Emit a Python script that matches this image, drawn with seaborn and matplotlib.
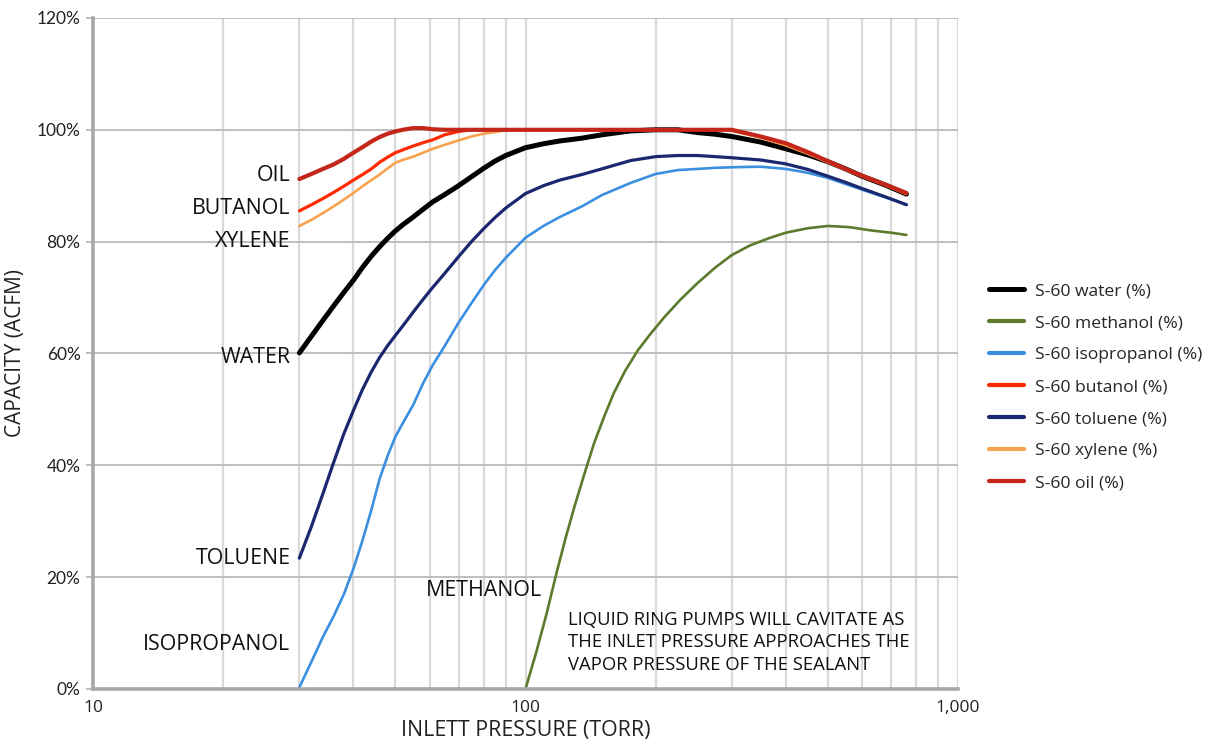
import numpy as np
import pandas as pd
import seaborn as sns
import matplotlib.pyplot as plt
from matplotlib.lines import Line2D
from matplotlib.ticker import FixedLocator, FuncFormatter

sns.set_theme(style="white")
plt.rcParams["font.family"] = ["Lato", "DejaVu Sans"]
TEXT_FONT = ["Open Sans", "DejaVu Sans"]

# -----------------------------------------------------------------
# data (pressure in torr, capacity in %)
# -----------------------------------------------------------------
pressure = [30, 32, 34, 36, 38, 40, 42, 44, 46, 48, 50, 52, 55, 58, 61, 65,
            70, 75, 80, 85, 90, 100, 110, 120, 135, 150, 175, 200, 225, 250,
            275, 300, 350, 400, 450, 500, 550, 600, 680, 760]

water = [60.1, 63.1, 65.9, 68.5, 70.9, 73.1, 75.4, 77.4, 79.1, 80.6, 81.9,
         83.0, 84.4, 85.8, 87.1, 88.4, 90.0, 91.6, 93.1, 94.4, 95.4, 96.8,
         97.5, 98.0, 98.5, 99.1, 99.8, 100.0, 100.0, 99.5, 99.2, 98.8, 97.8,
         96.6, 95.5, 94.3, 93.0, 91.7, 90.1, 88.5]
isopropanol = [0.3, 4.9, 9.3, 13.0, 16.9, 21.5, 26.6, 32.0, 37.6, 41.7, 45.1,
               47.5, 50.8, 54.7, 57.9, 61.3, 65.5, 69.0, 72.2, 74.9, 77.1,
               80.7, 82.8, 84.4, 86.3, 88.3, 90.5, 92.1, 92.8, 93.0, 93.2,
               93.3, 93.4, 93.0, 92.3, 91.4, 90.3, 89.3, 87.9, 86.6]
butanol = [85.5, 86.6, 87.7, 88.8, 89.9, 91.0, 92.0, 93.0, 94.2, 95.1, 95.9,
           96.4, 97.1, 97.7, 98.2, 99.1, 99.7, 100.0, 100.0, 100.0, 100.0,
           100.0, 100.0, 100.0, 100.0, 100.0, 100.0, 100.0, 100.0, 100.0,
           100.0, 100.0, 98.7, 97.4, 95.9, 94.3, 92.9, 91.7, 90.1, 88.6]
toluene = [23.4, 29.1, 34.9, 40.5, 45.6, 49.8, 53.6, 56.7, 59.3, 61.4, 63.2,
           64.9, 67.4, 69.7, 71.8, 74.3, 77.3, 80.0, 82.3, 84.3, 86.0, 88.6,
           90.0, 91.0, 92.0, 93.0, 94.5, 95.2, 95.4, 95.4, 95.2, 95.0, 94.6,
           93.9, 92.9, 91.7, 90.6, 89.5, 88.0, 86.6]
xylene = [82.8, 83.9, 85.1, 86.3, 87.5, 88.7, 89.9, 91.0, 92.0, 93.1, 94.1,
          94.6, 95.2, 95.9, 96.6, 97.3, 98.1, 98.8, 99.3, 99.6, 99.9, 100.0,
          100.0, 100.0, 100.0, 100.0, 100.0, 100.0, 100.0, 100.0, 100.0,
          99.8, 98.6, 97.2, 95.7, 94.2, 92.9, 91.7, 90.1, 88.5]
oil = [91.2, 92.1, 93.0, 93.8, 94.8, 95.9, 96.9, 97.9, 98.7, 99.3, 99.7,
       100.0, 100.3, 100.3, 100.1, 100.0, 100.0, 100.0, 100.0, 100.0, 100.0,
       100.0, 100.0, 100.0, 100.0, 100.0, 100.0, 100.0, 100.0, 100.0, 100.0,
       100.0, 98.8, 97.6, 96.0, 94.4, 93.0, 91.8, 90.2, 88.7]

methanol_pressure = [100, 106, 112, 118, 124, 130, 137, 144, 152, 160, 170,
                     182, 195, 210, 228, 250, 275, 300, 330, 365, 400, 450,
                     500, 560, 630, 700, 760]
methanol = [0.0, 6.7, 13.6, 20.8, 27.2, 32.8, 38.6, 43.9, 48.7, 52.9, 56.9,
            60.6, 63.6, 66.6, 69.6, 72.6, 75.4, 77.6, 79.3, 80.6, 81.6, 82.4,
            82.8, 82.6, 82.0, 81.6, 81.2]

series_names = ["S-60 water (%)", "S-60 methanol (%)", "S-60 isopropanol (%)",
                "S-60 butanol (%)", "S-60 toluene (%)", "S-60 xylene (%)",
                "S-60 oil (%)"]
series_colors = ["#000000", "#5b7a2c", "#3b8fe0", "#ff2a00", "#1b2870",
                 "#f7a24c", "#c4261a"]
series_widths = [3.6, 1.9, 1.9, 2.3, 2.3, 1.9, 3.0]

series_x = [pressure, methanol_pressure, pressure, pressure, pressure,
            pressure, pressure]
series_y = [water, methanol, isopropanol, butanol, toluene, xylene, oil]

df = pd.concat(
    [pd.DataFrame({"pressure": x, "capacity": y, "series": n})
     for x, y, n in zip(series_x, series_y, series_names)],
    ignore_index=True)

# -----------------------------------------------------------------
# plot
# -----------------------------------------------------------------
fig = plt.figure(figsize=(12.05, 7.48), dpi=100)
ax = fig.add_axes([0.0772, 0.0789, 0.7178, 0.8971])

ax.set_xscale("log")
ax.set_xlim(10, 1000)
ax.set_ylim(0, 120)

# grid
minor_x = [v * d for d in (10, 100) for v in range(2, 10)] + [100, 1000]
for xv in minor_x:
    ax.axvline(xv, color="#d9d9d9", lw=1.6, zorder=0)
for yv in range(20, 121, 20):
    ax.axhline(yv, color="#bfbfbf", lw=1.4, zorder=0)

for name, color, lw in zip(series_names, series_colors, series_widths):
    sns.lineplot(data=df[df["series"] == name], x="pressure", y="capacity",
                 color=color, lw=lw, ax=ax, legend=False, estimator=None,
                 sort=False, solid_capstyle="round", solid_joinstyle="round",
                 zorder=3)

for side in ["top", "right"]:
    ax.spines[side].set_visible(False)
for side in ["left", "bottom"]:
    ax.spines[side].set_color("#a8a8a8")
    ax.spines[side].set_linewidth(2.6)
    ax.spines[side].set_zorder(4)

ax.xaxis.set_major_locator(FixedLocator([10, 100, 1000]))
ax.xaxis.set_minor_locator(FixedLocator([]))
ax.set_xticklabels(["10", "100", "1,000"], family=TEXT_FONT,
                   fontsize=12.5, color="#222222")
ax.set_yticks(range(0, 121, 20))
ax.yaxis.set_major_formatter(FuncFormatter(lambda v, _: f"{v:.0f}%"))
ax.tick_params(axis="x", length=0, pad=8)
ax.tick_params(axis="y", length=5, width=1.4, color="#bfbfbf",
               labelsize=12.5, labelcolor="#222222", pad=4, left=True)

ax.set_xlabel("INLETT PRESSURE (TORR)", fontsize=15.4, family=TEXT_FONT,
              color="#222222", labelpad=3)
ax.set_ylabel("CAPACITY (ACFM)", fontsize=15, family=TEXT_FONT,
              color="#222222", labelpad=8)

# curve labels
lbl = dict(fontsize=15.4, color="#111111", ha="right", va="center",
           family=TEXT_FONT)
ax.text(28.6, 91.9, "OIL", **lbl)
ax.text(28.6, 86.0, "BUTANOL", **lbl)
ax.text(28.6, 80.1, "XYLENE", **lbl)
ax.text(28.6, 59.2, "WATER", **lbl)
ax.text(28.6, 23.4, "TOLUENE", **lbl)
ax.text(28.6, 7.9, "ISOPROPANOL", **lbl)
ax.text(80.2, 17.7, "METHANOL", fontsize=15.4, color="#111111",
        ha="center", va="center", family=TEXT_FONT)
ax.text(125.5, 13.9,
        "LIQUID RING PUMPS WILL CAVITATE AS\n"
        "THE INLET PRESSURE APPROACHES THE\n"
        "VAPOR PRESSURE OF THE SEALANT",
        fontsize=13.3, color="#111111", ha="left", va="top",
        linespacing=1.3, family=TEXT_FONT)

handles = [Line2D([0], [0], color=c, lw=max(w, 3.0)) for c, w in
           zip(series_colors, series_widths)]
fig.legend(handles, series_names, loc="upper left",
           bbox_to_anchor=(0.808, 0.643), frameon=False,
           prop={"family": TEXT_FONT, "size": 12.6},
           handlelength=2.0, labelspacing=0.9, handletextpad=0.6)

fig.savefig("out.png", dpi=100)
